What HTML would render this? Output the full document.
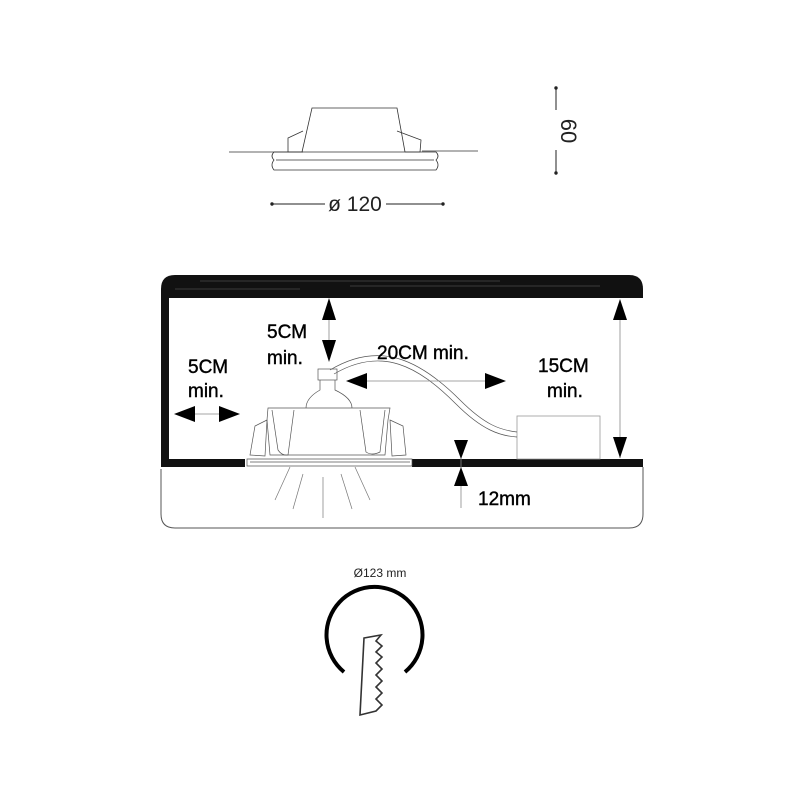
<!DOCTYPE html>
<html><head><style>html,body{margin:0;padding:0;background:#fff}svg{display:block}</style></head>
<body>
<svg width="800" height="800" viewBox="0 0 800 800" xmlns="http://www.w3.org/2000/svg" font-family="Liberation Sans, Arial, sans-serif">
<!-- top fixture -->
<g fill="none" stroke="#333" stroke-width="0.8">
<line x1="229" y1="152" x2="303" y2="152"/>
<line x1="422" y1="151" x2="478" y2="151"/>
<path d="M302,152 L312,108 L397,108 L405,152"/>
<path d="M303,131 L288,138 L288,152 L303,152"/>
<path d="M397,131 L421,140 L420,152 L405,152"/>
<path d="M274,152 L436,152 Q440,156 436,160 Q440,165 436,170 L274,170 Q270,165 274,160 Q270,156 274,152"/>
<line x1="276" y1="160" x2="434" y2="160"/>
</g>
<g stroke="#222" stroke-width="1" fill="#222">
<line x1="556" y1="88" x2="556" y2="110"/><line x1="556" y1="150" x2="556" y2="173"/>
<circle cx="556" cy="88" r="1.2"/><circle cx="556" cy="173" r="1.2"/>
<line x1="272" y1="204" x2="325" y2="204"/><line x1="386" y1="204" x2="443" y2="204"/>
<circle cx="272" cy="204" r="1.2"/><circle cx="443" cy="204" r="1.2"/>
</g>
<text x="567" y="131" font-size="22" fill="#222" text-anchor="middle" transform="rotate(90 567 131)" dominant-baseline="middle">60</text>
<text x="355" y="211" font-size="21" fill="#222" text-anchor="middle">ø 120</text>

<!-- box -->
<path d="M161,469 L161,514 Q161,528 175,528 L629,528 Q643,528 643,514 L643,467" fill="none" stroke="#555" stroke-width="1"/>
<path d="M161,298 L161,289 Q161,275 175,275 L629,275 Q643,275 643,289 L643,298 Z" fill="#111"/>
<rect x="161" y="290" width="8" height="177" fill="#111"/>
<rect x="161" y="459" width="84" height="8" fill="#111"/>
<rect x="412" y="459" width="231" height="8" fill="#111"/>
<g stroke="#666" stroke-width="0.6">
<line x1="200" y1="281" x2="500" y2="281"/><line x1="175" y1="289" x2="300" y2="289"/><line x1="350" y1="286" x2="600" y2="286"/>
</g>
<!-- transformer -->
<rect x="517" y="416" width="83" height="43" fill="none" stroke="#999" stroke-width="0.8"/>
<!-- cable -->
<path d="M330,370 C380,340 420,360 460,400 C485,425 500,430 517,432" fill="none" stroke="#555" stroke-width="0.7"/>
<path d="M334,374 C382,346 418,366 456,404 C482,430 500,436 517,437" fill="none" stroke="#555" stroke-width="0.7"/>
<!-- fixture -->
<g fill="none" stroke="#555" stroke-width="0.7">
<rect x="318" y="369" width="19" height="11"/>
<path d="M320,380 L320,390 Q306,398 306,408 M335,380 L335,390 Q352,398 352,408"/>
<path d="M268,408 L390,408 L388,420 L385,455 L270,455 L267,420 Z"/>
<path d="M272,410 L278,450 Q282,456 288,455 L294,410"/>
<path d="M360,410 L366,452 Q372,456 380,452 L385,410"/>
<path d="M267,420 L255,426 L250,455 L265,456 Z"/>
<path d="M390,420 L403,426 L406,455 L392,456 Z"/>
<path d="M247,459 L412,459 L412,466 L247,466 Z"/>
<line x1="250" y1="462" x2="410" y2="462"/>
</g>
<g stroke="#777" stroke-width="0.7">
<line x1="290" y1="467" x2="275" y2="500"/><line x1="303" y1="474" x2="293" y2="509"/>
<line x1="323" y1="477" x2="323" y2="518"/><line x1="341" y1="474" x2="352" y2="509"/>
<line x1="355" y1="467" x2="370" y2="500"/>
</g>
<!-- dimension arrows -->
<g stroke="#888" stroke-width="0.8">
<line x1="329" y1="300" x2="329" y2="360"/>
<line x1="176" y1="414" x2="238" y2="414"/>
<line x1="350" y1="381" x2="500" y2="381"/>
<line x1="620" y1="300" x2="620" y2="458"/>
<line x1="461" y1="440" x2="461" y2="508"/>
</g>
<g fill="#000">
<polygon points="329,298 322,320 336,320"/><polygon points="329,362 322,340 336,340"/>
<polygon points="174,414 195,406 195,422"/><polygon points="240,414 219,406 219,422"/>
<polygon points="346,381 367,373 367,389"/><polygon points="506,381 485,373 485,389"/>
<polygon points="620,299 613,320 627,320"/><polygon points="620,458 613,437 627,437"/>
<polygon points="461,459 454,440 468,440"/><polygon points="461,467 454,486 468,486"/>
</g>
<g font-size="19" fill="#000" stroke="#000" stroke-width="0.4">
<text x="267" y="338">5CM</text><text x="267" y="364">min.</text>
<text x="188" y="373">5CM</text><text x="188" y="397">min.</text>
<text x="377" y="359">20CM min.</text>
<text x="538" y="372">15CM</text><text x="547" y="397">min.</text>
<text x="478" y="505">12mm</text>
</g>
<!-- bottom -->
<text x="380" y="577" font-size="12" fill="#222" text-anchor="middle">Ø123 mm</text>
<path d="M344,672 A48,48 0 1 1 405,672" fill="none" stroke="#000" stroke-width="4"/>
<path d="M364,638 L381,635 L376,641 L382,646 L376,652 L382,657 L376,663 L382,669 L376,675 L382,681 L376,687 L382,693 L376,699 L382,705 L376,711 L360,715 Z" fill="none" stroke="#333" stroke-width="1.6"/>
</svg>
</body></html>
